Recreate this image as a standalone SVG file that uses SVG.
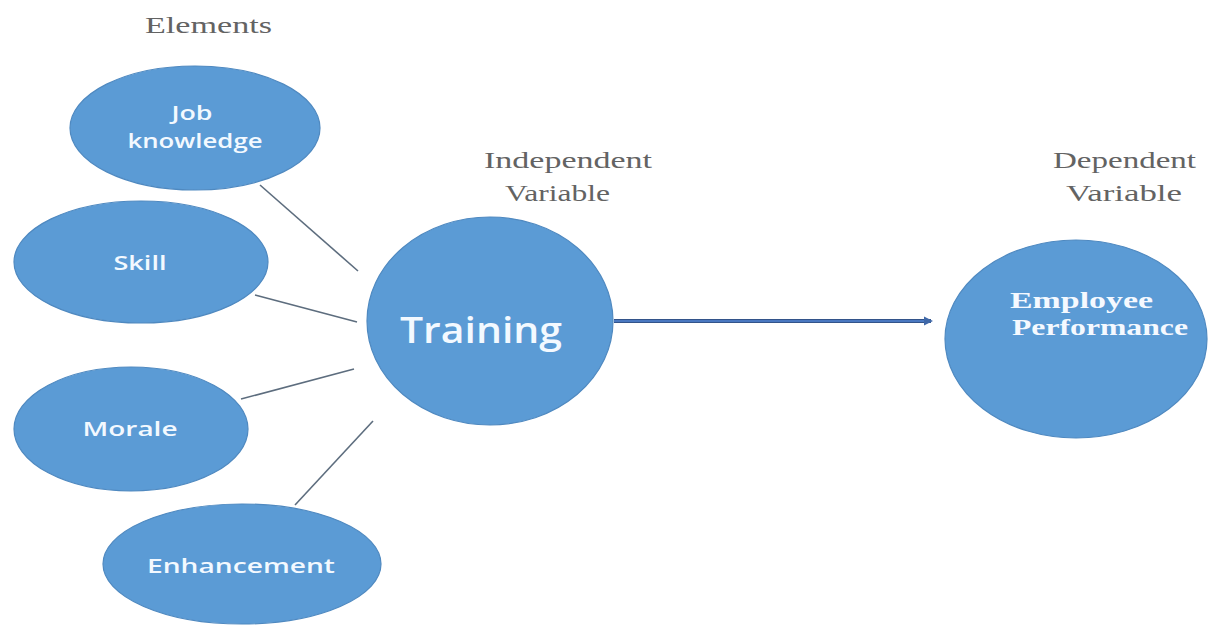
<svg xmlns="http://www.w3.org/2000/svg" width="1209" height="626" viewBox="0 0 1209 626">
  <defs>
    <style>
      .node { fill: #5b9bd5; stroke: #4f89c0; stroke-width: 1.2; }
      .lbl { fill: #f3f9ff; font-family: "Open Sans", "Liberation Sans", sans-serif; font-weight: 600; font-size: 20px; text-anchor: middle; }
      .big { font-size: 36px; }
      .serifb { fill: #f5f9ff; font-family: "Liberation Serif", serif; font-weight: bold; font-size: 24px; }
      .cap { fill: #636363; font-family: "Liberation Serif", serif; font-size: 23px; }
      .link { stroke: #5d6d7e; stroke-width: 1.6; fill: none; }
    </style>
  </defs>

  <rect width="1209" height="626" fill="#ffffff"/>

  <!-- captions -->
  <text class="cap" x="145" y="33" textLength="127" lengthAdjust="spacingAndGlyphs">Elements</text>
  <text class="cap" x="484" y="168" textLength="168" lengthAdjust="spacingAndGlyphs">Independent</text>
  <text class="cap" x="505" y="201" textLength="105" lengthAdjust="spacingAndGlyphs">Variable</text>
  <text class="cap" x="1053" y="168" textLength="143" lengthAdjust="spacingAndGlyphs">Dependent</text>
  <text class="cap" x="1066" y="201" textLength="116" lengthAdjust="spacingAndGlyphs">Variable</text>

  <!-- connectors -->
  <g id="connectors">
    <line class="link" x1="260" y1="185" x2="358" y2="271"/>
    <line class="link" x1="255" y1="295" x2="357" y2="322"/>
    <line class="link" x1="241" y1="399" x2="354" y2="369"/>
    <line class="link" x1="295" y1="505" x2="373" y2="421"/>
    <line x1="614" y1="321" x2="931" y2="321" stroke="#33548a" stroke-width="4"/>
    <line x1="614" y1="321" x2="926" y2="321" stroke="#4a78c0" stroke-width="2"/>
    <path d="M924,316.5 L933,321 L924,325.5 z" fill="#3f68a8"/>
  </g>

  <g id="job-knowledge">
    <ellipse class="node" cx="195" cy="128" rx="125" ry="62"/>
    <text class="lbl" x="192" y="120" textLength="41" lengthAdjust="spacingAndGlyphs">Job</text>
    <text class="lbl" x="195" y="148" textLength="135" lengthAdjust="spacingAndGlyphs">knowledge</text>
  </g>

  <g id="skill">
    <ellipse class="node" cx="141" cy="262" rx="127" ry="61"/>
    <text class="lbl" x="140" y="270" textLength="53" lengthAdjust="spacingAndGlyphs">Skill</text>
  </g>

  <g id="morale">
    <ellipse class="node" cx="131" cy="429" rx="117" ry="62"/>
    <text class="lbl" x="130" y="436" textLength="95" lengthAdjust="spacingAndGlyphs">Morale</text>
  </g>

  <g id="enhancement">
    <ellipse class="node" cx="242" cy="564" rx="139" ry="60"/>
    <text class="lbl" x="241" y="573" textLength="188" lengthAdjust="spacingAndGlyphs">Enhancement</text>
  </g>

  <g id="training">
    <ellipse class="node" cx="490" cy="321" rx="123" ry="104"/>
    <text class="lbl big" x="481" y="343" textLength="162" lengthAdjust="spacingAndGlyphs" font-weight="500">Training</text>
  </g>

  <g id="employee-performance">
    <ellipse class="node" cx="1076" cy="339" rx="131" ry="99"/>
    <text class="serifb" x="1010" y="308" textLength="143" lengthAdjust="spacingAndGlyphs">Employee</text>
    <text class="serifb" x="1012" y="335" textLength="176" lengthAdjust="spacingAndGlyphs">Performance</text>
  </g>
</svg>
